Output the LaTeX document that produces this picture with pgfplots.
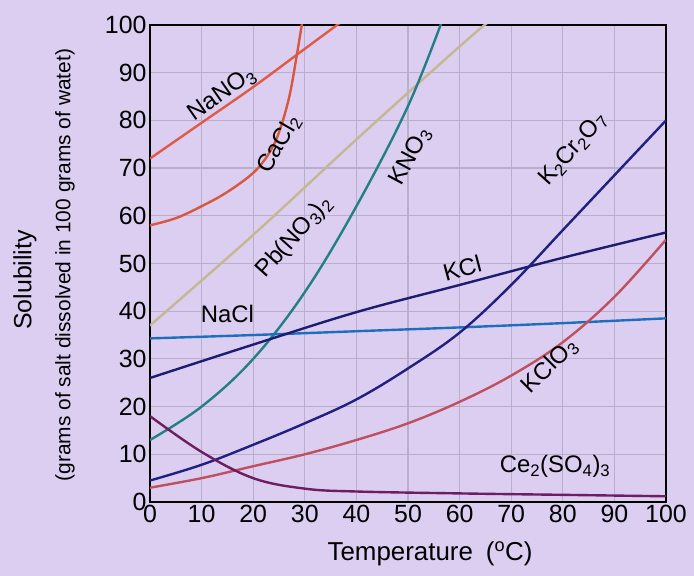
\documentclass[border=0pt]{standalone}
\usepackage{pgfplots}
\pgfplotsset{compat=1.18}
\usepackage{fontspec}
\setmainfont{Liberation Sans}
\definecolor{bg}{RGB}{220,206,240}
\definecolor{gridc}{RGB}{185,175,205}
\definecolor{nano}{RGB}{222,92,70}
\definecolor{cacl}{RGB}{214,88,62}
\definecolor{pbno}{RGB}{196,184,146}
\definecolor{kno}{RGB}{34,128,132}
\definecolor{nacl}{RGB}{30,110,190}
\definecolor{kcl}{RGB}{28,28,112}
\definecolor{kcr}{RGB}{32,32,128}
\definecolor{kclo}{RGB}{190,80,96}
\definecolor{ceso}{RGB}{110,30,96}
\begin{document}
\begin{tikzpicture}
\fill[bg] (0,0) rectangle (694bp,576bp);
\begin{axis}[at={(150bp,74bp)}, anchor=south west, scale only axis,
  width=516bp, height=477bp,
  xmin=0, xmax=100, ymin=0, ymax=100,
  xtick={0,10,...,100}, ytick={0,10,...,100},
  grid=major, major grid style={gridc, line width=1.2pt},
  major tick length=0pt,
  axis line style={line width=1.6pt, black},
  tick label style={font=\fontsize{25}{27}\selectfont},
  /pgf/number format/assume math mode=true,
  axis background/.style={fill=bg},
  every axis plot/.append style={line width=2.4pt, smooth, tension=0.6, no markers},
  label style={font=\fontsize{25}{27}\selectfont},
]
% NaNO3
\addplot[nano] coordinates {(0,72) (10,79.5) (20,87) (30,95) (40,103)};
% CaCl2
\addplot[cacl] coordinates {(0,58) (5,59.5) (10,62) (15,65) (20,69) (23,73) (25,77.5) (27,85) (28.5,94) (29.7,102)};
% Pb(NO3)2
\addplot[pbno] coordinates {(0,37) (20,56) (40,76) (60,95.5) (66,101)};
% KNO3
\addplot[kno] coordinates {(0,13) (10,20) (20,30) (30,44) (40,62) (50,83) (57,102)};
% NaCl
\addplot[nacl] coordinates {(0,34.3) (20,35) (40,35.8) (60,36.6) (80,37.5) (100,38.5)};
% KCl
\addplot[kcl] coordinates {(0,26) (20,33) (40,39.8) (60,45.5) (80,51.2) (100,56.5)};
% K2Cr2O7
\addplot[kcr] coordinates {(0,4.5) (10,7.8) (20,12) (30,16.5) (40,21.5) (50,28) (60,35.5) (70,45.5) (80,57) (90,68.5) (100,80)};
% KClO3
\addplot[kclo] coordinates {(0,3) (10,5) (20,7.5) (30,10) (40,13) (50,16.5) (60,21) (70,26.5) (80,33.5) (90,43) (100,55)};
% Ce2(SO4)3
\addplot[ceso] coordinates {(0,18) (10,10.5) (20,5) (30,2.8) (40,2.2) (60,1.8) (80,1.5) (100,1.2)};

\node[rotate=35, font=\fontsize{24}{26}\selectfont] at (axis cs:14,85.5) {NaNO\textsubscript{3}};
\node[rotate=60, font=\fontsize{24}{26}\selectfont] at (axis cs:25,75) {CaCl\textsubscript{2}};
\node[rotate=48, font=\fontsize{24}{26}\selectfont] at (axis cs:28,55.5) {Pb(NO\textsubscript{3})\textsubscript{2}};
\node[rotate=62, font=\fontsize{24}{26}\selectfont] at (axis cs:50.5,72.5) {KNO\textsubscript{3}};
\node[rotate=48, font=\fontsize{24}{26}\selectfont] at (axis cs:82,74) {K\textsubscript{2}Cr\textsubscript{2}O\textsubscript{7}};
\node[rotate=15, font=\fontsize{24}{26}\selectfont] at (axis cs:60.5,49) {KCl};
\node[font=\fontsize{24}{26}\selectfont] at (axis cs:15,39.5) {NaCl};
\node[rotate=45, font=\fontsize{24}{26}\selectfont] at (axis cs:77.5,28.5) {KClO\textsubscript{3}};
\node[font=\fontsize{24}{26}\selectfont] at (axis cs:78.5,7.5) {Ce\textsubscript{2}(SO\textsubscript{4})\textsubscript{3}};
\end{axis}
\node[rotate=90, font=\fontsize{25}{27}\selectfont] at (25bp,296bp) {Solubility};
\node[rotate=90, font=\fontsize{21}{23}\selectfont] at (65bp,311bp) {(grams of salt dissolved in 100 grams of watet)};
\node[font=\fontsize{26}{28}\selectfont] at (430bp,22bp) {Temperature\enspace(\textsuperscript{o}C)};
\end{tikzpicture}
\end{document}
